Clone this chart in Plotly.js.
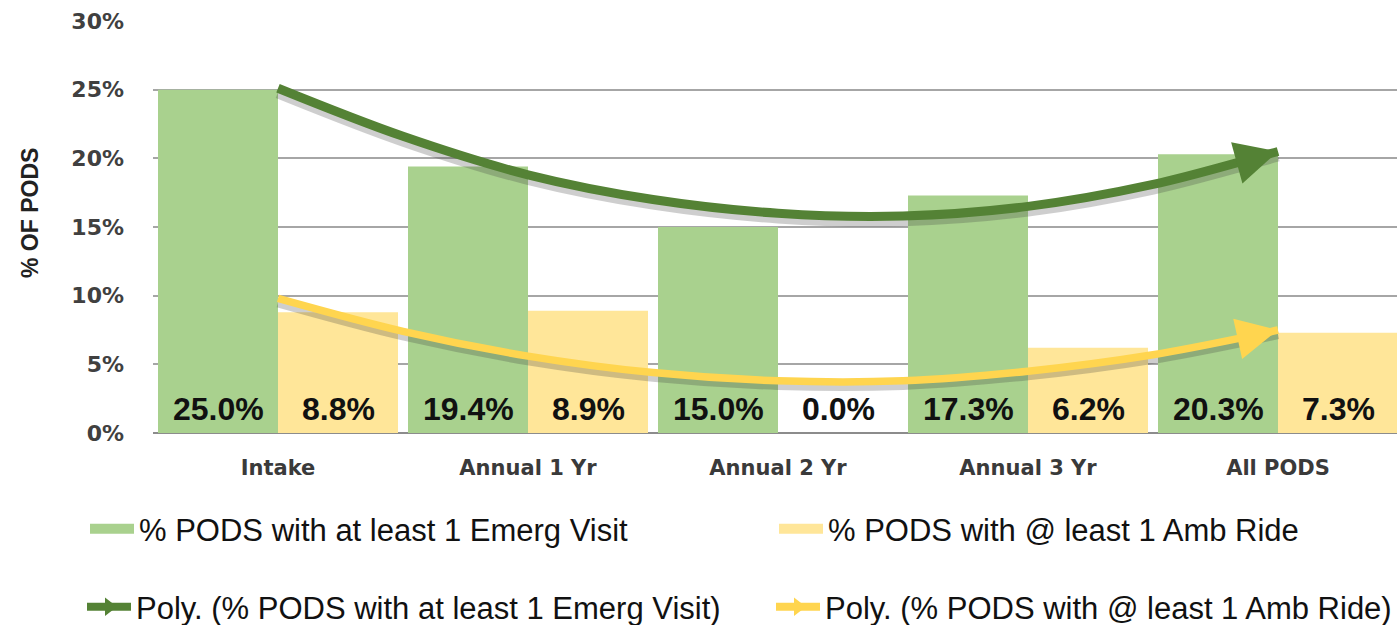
<!DOCTYPE html>
<html>
<head>
<meta charset="utf-8">
<script src="https://cdn.plot.ly/plotly-3.0.1.min.js"></script>
<style>html,body{margin:0;padding:0;background:#fff;}#chart{width:1397px;height:625px;}</style>
</head>
<body>
<div id="chart"></div>
<script>
// ---- data ----
const categories = ["Intake", "Annual 1 Yr", "Annual 2 Yr", "Annual 3 Yr", "All PODS"];
const emergVisit = [25.0, 19.4, 15.0, 17.3, 20.3];
const ambRide = [8.8, 8.9, 0.0, 6.2, 7.3];
const emergLabels = ["25.0%", "19.4%", "15.0%", "17.3%", "20.3%"];
const ambLabels = ["8.8%", "8.9%", "0.0%", "6.2%", "7.3%"];
// trend curves (category index -> %)
const trendX = [0, 0.5, 1, 1.5, 2, 2.5, 3, 3.5, 3.9, 4];
const emergTrend = [25.1, 21.6, 18.8, 17.0, 16.0, 15.8, 16.5, 18.1, 20.0, 20.5];
const ambTrend = [9.8, 7.4, 5.6, 4.4, 3.8, 3.8, 4.5, 5.7, 7.1, 7.5];
const yTicks = [0, 5, 10, 15, 20, 25, 30];
const yTickText = ["0%", "5%", "10%", "15%", "20%", "25%", "30%"];
const names = {
  emerg: "% PODS with at least 1 Emerg Visit",
  amb: "% PODS with @ least 1 Amb Ride",
  emergPoly: "Poly. (% PODS with at least 1 Emerg Visit)",
  ambPoly: "Poly. (% PODS with @ least 1 Amb Ride)"
};

const GREEN = "#A9D18E", YELLOW = "#FFE699", DGREEN = "#548235", DYELLOW = "#FFD54F";
const SHADOW = "rgba(60,60,60,0.25)";
const idx = categories.map((c, i) => i);
const n = trendX.length;

const traces = [
  {type: "bar", x: idx, y: emergVisit, marker: {color: GREEN}, showlegend: false, hoverinfo: "skip"},
  {type: "bar", x: idx, y: ambRide, marker: {color: YELLOW}, showlegend: false, hoverinfo: "skip"},
  // soft shadows (same curves on a slightly shifted overlay axis)
  {type: "scatter", mode: "lines", x: trendX, y: emergTrend, xaxis: "x2", yaxis: "y2",
   line: {color: SHADOW, width: 12, shape: "spline"}, showlegend: false, hoverinfo: "skip"},
  {type: "scatter", mode: "lines", x: trendX, y: ambTrend, xaxis: "x2", yaxis: "y2",
   line: {color: SHADOW, width: 10, shape: "spline"}, showlegend: false, hoverinfo: "skip"},
  {type: "scatter", mode: "lines", x: trendX, y: emergTrend, xaxis: "x2", yaxis: "y3",
   line: {color: DGREEN, width: 9, shape: "spline"}, showlegend: false, hoverinfo: "skip"},
  {type: "scatter", mode: "lines", x: trendX, y: ambTrend, xaxis: "x2", yaxis: "y3",
   line: {color: DYELLOW, width: 7.5, shape: "spline"}, showlegend: false, hoverinfo: "skip"},
  // legend entries
  {type: "scatter", mode: "lines", x: [null], y: [null], name: names.emerg, line: {color: GREEN, width: 18}, legend: "legend"},
  {type: "scatter", mode: "lines", x: [null], y: [null], name: names.amb, line: {color: YELLOW, width: 18}, legend: "legend"},
  {type: "scatter", mode: "lines+markers", x: [null], y: [null], name: names.emergPoly,
   line: {color: DGREEN, width: 8}, marker: {symbol: "triangle-right", size: 30, color: DGREEN}, legend: "legend2"},
  {type: "scatter", mode: "lines+markers", x: [null], y: [null], name: names.ambPoly,
   line: {color: DYELLOW, width: 8}, marker: {symbol: "triangle-right", size: 30, color: DYELLOW}, legend: "legend2"}
];

const labelFont = {family: "Liberation Sans, Arial, sans-serif", size: 32, color: "#111", weight: "bold"};
const annotations = [];
idx.forEach(i => {
  annotations.push({x: i, y: 0, xref: "x", yref: "y", text: emergLabels[i], showarrow: false,
    xshift: -60, yanchor: "bottom", yshift: 4, font: labelFont});
  annotations.push({x: i, y: 0, xref: "x", yref: "y", text: ambLabels[i], showarrow: false,
    xshift: 60, yanchor: "bottom", yshift: 4, font: labelFont});
});
// arrowheads at the end of each trend curve
annotations.push({x: trendX[n - 1], y: emergTrend[n - 1], ax: trendX[n - 2], ay: emergTrend[n - 2],
  xref: "x", yref: "y", axref: "x", ayref: "y", text: "", showarrow: true,
  arrowhead: 2, arrowwidth: 9, arrowsize: 0.95, arrowcolor: DGREEN, standoff: 0});
annotations.push({x: trendX[n - 1], y: ambTrend[n - 1], ax: trendX[n - 2], ay: ambTrend[n - 2],
  xref: "x", yref: "y", axref: "x", ayref: "y", text: "", showarrow: true,
  arrowhead: 2, arrowwidth: 7.5, arrowsize: 1.1, arrowcolor: DYELLOW, standoff: 0});
annotations.push({x: (30 - 153) / 1244, y: (433 - 213) / 412, xref: "paper", yref: "paper",
  text: "% OF PODS", showarrow: false, textangle: -90, xanchor: "center", yanchor: "middle",
  font: {family: "Liberation Sans, Arial, sans-serif", size: 23, color: "#222", weight: "bold"}});

const legendFont = {family: "Liberation Sans, Arial, sans-serif", size: 31, color: "#111"};
const xRange = [-0.5, 4.476];
const yRange = [0, 30];
const layout = {
  width: 1397, height: 625,
  margin: {l: 153, r: 0, t: 21, b: 192, autoexpand: false},
  paper_bgcolor: "#fff", plot_bgcolor: "#fff",
  barmode: "group", bargap: 0.04, bargroupgap: 0,
  xaxis: {
    type: "linear", range: xRange, tickvals: idx, ticktext: categories,
    showgrid: false, zeroline: false, showline: false, ticks: "",
    ticklabelstandoff: 20,
    tickfont: {family: "DejaVu Sans, Verdana, sans-serif", size: 21, color: "#3a3a3a", weight: "bold"}
  },
  xaxis2: {overlaying: "x", range: xRange, visible: false},
  yaxis: {
    range: yRange, tickvals: yTicks, ticktext: yTickText,
    showgrid: true, gridcolor: "#A6A6A6", gridwidth: 2,
    zeroline: true, zerolinecolor: "#8C8C8C", zerolinewidth: 2,
    showline: false, ticks: "", ticklabelstandoff: 28,
    tickfont: {family: "DejaVu Sans, Verdana, sans-serif", size: 22, color: "#404040", weight: "bold"}
  },
  // shadow axis: same scale, shifted a few pixels down
  yaxis2: {overlaying: "y", range: [0.3, 30.3], visible: false},
  yaxis3: {overlaying: "y", range: yRange, visible: false},
  legend: {orientation: "h", x: (85 - 153) / 1244, y: (433 - 502) / 412,
    xanchor: "left", yanchor: "top", entrywidth: 630, entrywidthmode: "pixels", itemwidth: 44,
    font: legendFont, bgcolor: "rgba(0,0,0,0)"},
  legend2: {orientation: "h", x: (82 - 153) / 1244, y: (433 - 580) / 412,
    xanchor: "left", yanchor: "top", entrywidth: 630, entrywidthmode: "pixels", itemwidth: 44,
    font: legendFont, bgcolor: "rgba(0,0,0,0)"},
  annotations: annotations,
  showlegend: true
};

Plotly.newPlot("chart", traces, layout, {displayModeBar: false, staticPlot: true});
</script>
</body>
</html>
